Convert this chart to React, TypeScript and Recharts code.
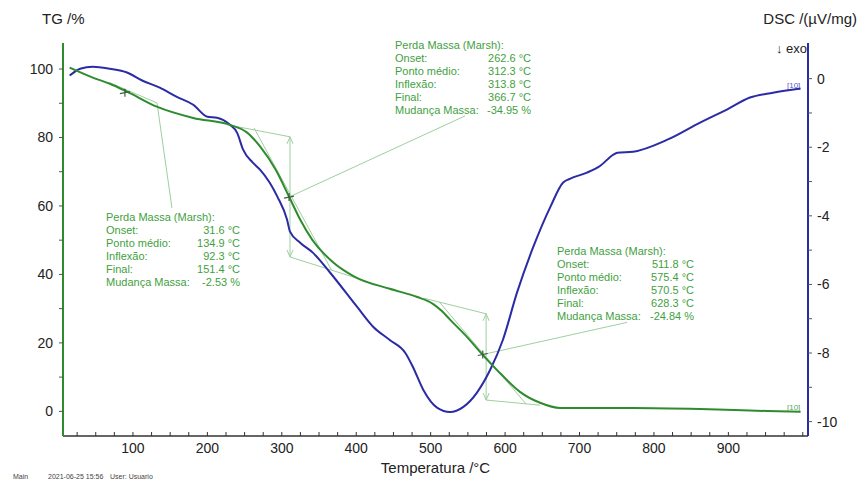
import React from 'react';
import { ComposedChart, Line, XAxis, YAxis, ReferenceLine, ReferenceDot } from 'recharts';

// TG curve: temperature (°C) and mass (%)
const tgTemp = [15, 46, 69, 92, 132, 181, 230, 253, 271, 292, 310, 325, 341, 368, 398, 445, 482, 503, 515, 526, 549, 570, 593, 620, 647, 674, 772, 862, 952, 997];
const tgMass = [100.4, 97.5, 95.7, 93.4, 89.0, 85.7, 83.7, 81.5, 77.3, 70.5, 62.6, 55.9, 50.1, 43.7, 39.3, 35.8, 33.4, 31.4, 29.3, 26.8, 21.7, 16.5, 11.2, 5.7, 2.5, 1.0, 1.0, 0.7, 0.1, -0.1];

// DSC curve: temperature (°C) and signal (µV/mg)
const dscTemp = [15, 29, 46, 69, 92, 113, 136, 159, 181, 200, 213, 230, 240, 248, 261, 271, 294, 307, 311, 325, 342, 365, 401, 423, 445, 466, 476, 490, 509, 526, 544, 562, 580, 597, 616, 638, 661, 678, 687, 710, 728, 745, 751, 772, 818, 862, 898, 929, 960, 997];
const dscSignal = [0.09, 0.29, 0.35, 0.29, 0.18, -0.06, -0.26, -0.53, -0.76, -1.11, -1.14, -1.34, -1.58, -2.07, -2.45, -2.66, -3.44, -4.11, -4.46, -4.79, -5.08, -5.66, -6.65, -7.24, -7.62, -8.0, -8.4, -9.07, -9.6, -9.72, -9.57, -9.16, -8.49, -7.62, -6.24, -4.9, -3.73, -3.03, -2.92, -2.74, -2.54, -2.22, -2.16, -2.13, -1.78, -1.28, -0.9, -0.55, -0.41, -0.29];

// axes
const xTicks = [25, 50, 75, 100, 125, 150, 175, 200, 225, 250, 275, 300, 325, 350, 375, 400, 425, 450, 475, 500, 525, 550, 575, 600, 625, 650, 675, 700, 725, 750, 775, 800, 825, 850, 875, 900, 925, 950, 975, 1000];
const xLabels = [100, 200, 300, 400, 500, 600, 700, 800, 900];
const tgTicks = [0, 10, 20, 30, 40, 50, 60, 70, 80, 90, 100];
const dscTicks = [-10, -9, -8, -7, -6, -5, -4, -3, -2, -1, 0];

// Marsh evaluation construction (temperature, mass)
const tangentLines = [
  [[69, 96.0], [132.3, 90.1]],
  [[234.4, 83.4], [311, 80.2]],
  [[262.6, 82.8], [366.7, 41.3]],
  [[311, 45.1], [401, 38.9]],
  [[490, 33.1], [574.5, 28.5]],
  [[511.8, 31.9], [628.3, 2.1]],
  [[574.5, 3.3], [647, 1.8]],
];
const massArrows = [
  [[311, 80.2], [311, 45.1]],
  [[574.5, 28.5], [574.5, 3.3]],
];
const inflectionMarks = [[89.2, 93.1], [309.7, 62.6], [570, 16.6]];
const leaderLines = [
  [[132.3, 90.1], [152.4, 59.4]],
  [[309.7, 62.6], [546.2, 86.3]],
  [[570, 16.6], [764, 26.0]],
];

const boxLabels = ['Perda Massa (Marsh):', 'Onset:', 'Ponto médio:', 'Inflexão:', 'Final:', 'Mudança Massa:'];
const step1Values = ['', '31.6 °C', '134.9 °C', '92.3 °C', '151.4 °C', '-2.53 %'];
const step2Values = ['', '262.6 °C', '312.3 °C', '313.8 °C', '366.7 °C', '-34.95 %'];
const step3Values = ['', '511.8 °C', '575.4 °C', '570.5 °C', '628.3 °C', '-24.84 %'];

const FONT = '"Liberation Sans", Arial, sans-serif';
const GREEN = '#2e8b2e';
const BLUE = '#2b2ba6';
const TEXT_GREEN = '#3f9f3f';
const CONSTR = '#9fcf9f';

const tgData = tgTemp.map((t, i) => ({ t, v: tgMass[i] }));
const dscData = dscTemp.map((t, i) => ({ t, v: dscSignal[i] }));

const arrowShape = (p: any) => {
  const { x1, y1, x2, y2 } = p;
  const top = Math.min(y1, y2);
  const bot = Math.max(y1, y2);
  return (
    <g stroke={CONSTR} strokeWidth={1} fill="none">
      <line x1={x1} y1={y1} x2={x2} y2={y2} />
      <polyline points={`${x1 - 3},${top + 7} ${x1},${top} ${x1 + 3},${top + 7}`} />
      <polyline points={`${x1 - 3},${bot - 7} ${x1},${bot} ${x1 + 3},${bot - 7}`} />
    </g>
  );
};

const crossShape = (p: any) => (
  <path
    d={`M${p.cx - 5},${p.cy + 1}L${p.cx + 5},${p.cy - 1}M${p.cx},${p.cy - 4}V${p.cy + 4}`}
    stroke="#3d5f3d"
    strokeWidth={1.2}
    fill="none"
  />
);

const InfoBox = ({ x, right, y, values }: { x: number; right: number; y: number; values: string[] }) => (
  <g fontSize={11} fill={TEXT_GREEN}>
    {boxLabels.map((label, i) => (
      <React.Fragment key={label}>
        <text x={x} y={y + i * 13 + 4}>{label}</text>
        {values[i] && (
          <text x={right} y={y + i * 13 + 4} textAnchor="end">{values[i]}</text>
        )}
      </React.Fragment>
    ))}
  </g>
);

const App = () => {
  const tickStyle = { fill: '#222', fontSize: 14, fontFamily: FONT };
  return (
    <div style={{ position: 'relative', width: 859, height: 483, fontFamily: FONT, background: '#fff' }}>
      <style>{'body{margin:0}'}</style>
      <svg width={859} height={483} style={{ position: 'absolute', left: 0, top: 0 }} fontFamily={FONT}>
        <text x={42} y={23.5} fontSize={15} fill="#222">TG /%</text>
        <text x={857} y={24} fontSize={15} fill="#222" textAnchor="end">DSC /(µV/mg)</text>
        <text x={807} y={53} fontSize={13} fill="#222" textAnchor="end">↓ exo</text>
        <text x={435.5} y={472.5} fontSize={15} fill="#222" textAnchor="middle">Temperatura /°C</text>
        <g fontSize={7} fill="#444">
          <text x={13} y={479}>Main</text>
          <text x={48} y={479}>2021-06-25 15:56</text>
          <text x={110} y={479}>User: Usuario</text>
        </g>
        <text x={787} y={88} fontSize={8} fill="#5a5ac8">[10]</text>
        <text x={787} y={410} fontSize={8} fill="#5aa85a">[10]</text>
        <InfoBox x={106} right={240} y={217} values={step1Values} />
        <InfoBox x={395} right={531} y={45} values={step2Values} />
        <InfoBox x={557} right={694} y={250.5} values={step3Values} />
      </svg>
      <div style={{ position: 'absolute', left: 0, top: 0 }}>
        <ComposedChart width={859} height={483} margin={{ top: 43, right: 0, bottom: 17, left: 0 }}>
          <XAxis
            type="number"
            dataKey="t"
            domain={[6, 1007]}
            allowDataOverflow
            ticks={xTicks}
            interval={0}
            tickFormatter={(v: number) => (xLabels.includes(v) ? String(v) : '')}
            tickSize={-4}
            tickMargin={11}
            height={30}
            axisLine={{ stroke: '#333', strokeWidth: 1.5 }}
            tickLine={{ stroke: '#333' }}
            tick={tickStyle}
          />
          <YAxis
            yAxisId="tg"
            orientation="left"
            width={63}
            domain={[-7.2, 107.6]}
            allowDataOverflow
            ticks={tgTicks}
            interval={0}
            tickFormatter={(v: number) => (v % 20 === 0 ? String(v) : '')}
            tickSize={4}
            tickMargin={6}
            axisLine={{ stroke: GREEN, strokeWidth: 2 }}
            tickLine={{ stroke: '#555' }}
            tick={tickStyle}
          />
          <YAxis
            yAxisId="dsc"
            orientation="right"
            width={51}
            domain={[-10.42, 1.04]}
            allowDataOverflow
            ticks={dscTicks}
            interval={0}
            tickFormatter={(v: number) => (v % 2 === 0 ? String(v) : '')}
            tickSize={4}
            tickMargin={5}
            axisLine={{ stroke: BLUE, strokeWidth: 2 }}
            tickLine={{ stroke: '#555' }}
            tick={tickStyle}
          />
          {tangentLines.map((s, i) => (
            <ReferenceLine
              key={`tan-${i}`}
              yAxisId="tg"
              segment={[{ x: s[0][0], y: s[0][1] }, { x: s[1][0], y: s[1][1] }]}
              stroke={CONSTR}
              strokeWidth={1}
              ifOverflow="visible"
            />
          ))}
          {leaderLines.map((s, i) => (
            <ReferenceLine
              key={`lead-${i}`}
              yAxisId="tg"
              segment={[{ x: s[0][0], y: s[0][1] }, { x: s[1][0], y: s[1][1] }]}
              stroke={CONSTR}
              strokeWidth={1}
              ifOverflow="visible"
            />
          ))}
          {massArrows.map((s, i) => (
            <ReferenceLine
              key={`arr-${i}`}
              yAxisId="tg"
              segment={[{ x: s[0][0], y: s[0][1] }, { x: s[1][0], y: s[1][1] }]}
              stroke={CONSTR}
              ifOverflow="visible"
              shape={arrowShape}
            />
          ))}
          <Line
            yAxisId="dsc"
            data={dscData}
            dataKey="v"
            type="monotone"
            stroke={BLUE}
            strokeWidth={2}
            dot={false}
            isAnimationActive={false}
          />
          <Line
            yAxisId="tg"
            data={tgData}
            dataKey="v"
            type="monotone"
            stroke={GREEN}
            strokeWidth={2}
            dot={false}
            isAnimationActive={false}
          />
          {inflectionMarks.map((m, i) => (
            <ReferenceDot
              key={`inf-${i}`}
              yAxisId="tg"
              x={m[0]}
              y={m[1]}
              r={4}
              ifOverflow="visible"
              shape={crossShape}
            />
          ))}
        </ComposedChart>
      </div>
    </div>
  );
};

export default App;
